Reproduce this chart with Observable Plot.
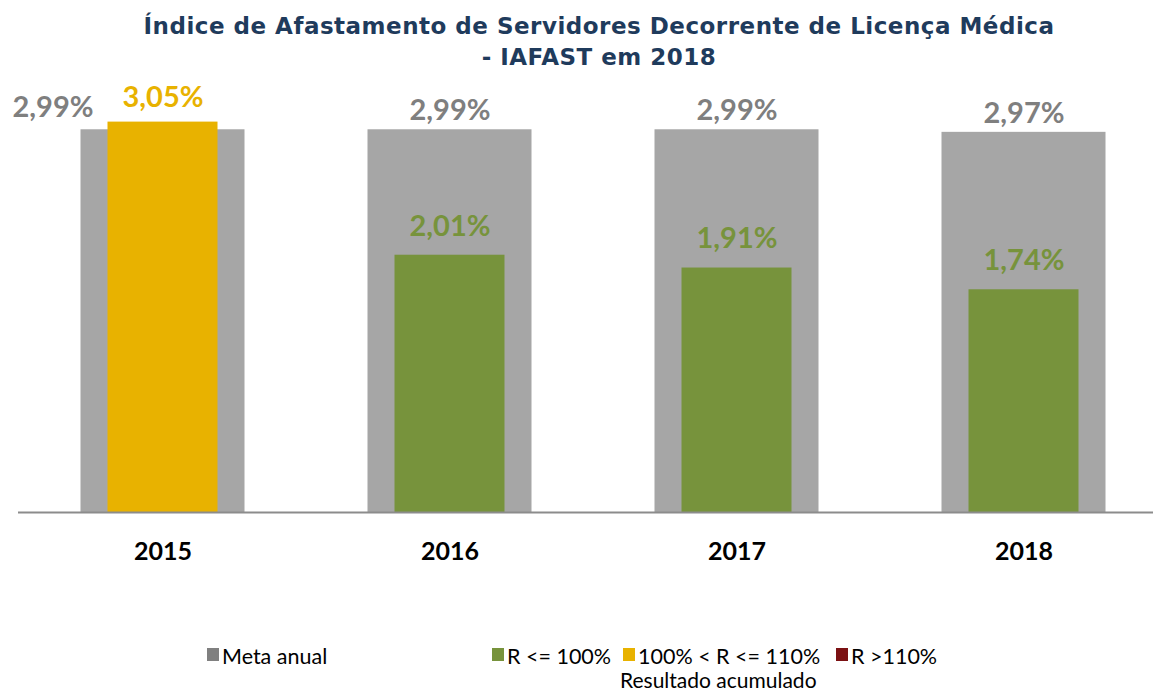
<!DOCTYPE html>
<html><head><meta charset="utf-8">
<script src="https://cdn.jsdelivr.net/npm/d3@7"></script>
<script src="https://cdn.jsdelivr.net/npm/@observablehq/plot@0.6"></script>
<style>
body{margin:0;background:#fff;width:1153px;height:693px;overflow:hidden;position:relative;font-family:Lato,"Open Sans",sans-serif;}
#title{position:absolute;left:0;top:11px;width:1198px;text-align:center;font-family:"DejaVu Sans",Verdana,sans-serif;font-weight:bold;font-size:23px;line-height:31px;color:#1F3B5C;letter-spacing:0.5px;}
#chart{position:absolute;left:0;top:64px;}
.leg{position:absolute;font-size:21.5px;color:#000;white-space:nowrap;line-height:22px;}
.sw{position:absolute;width:12px;height:13px;}
</style></head>
<body>
<div id="title">Índice de Afastamento de Servidores Decorrente de Licença Médica<br>- IAFAST em 2018</div>
<div id="chart"></div>
<div id="legend"></div>
<script>
const years = ["2015","2016","2017","2018"];
const meta = [2.99, 2.99, 2.99, 2.97];
const resultado = [3.05, 2.01, 1.91, 1.74];
const legendLabels = ["Meta anual","R <= 100%","100% < R <= 110%","R >110%"];
const legendColors = ["#808080","#77933C","#E8B200","#7B1113"];

const fmt = v => v.toFixed(2).replace(".", ",") + "%";
const cat = (r, m) => { const q = r / m; return q <= 1 ? 1 : (q <= 1.10 ? 2 : 3); };
const rows = years.map((y, i) => ({year: y, meta: meta[i], res: resultado[i], c: cat(resultado[i], meta[i])}));
// when the result exceeds the goal, the goal label moves aside
const metaAside = rows.filter(d => d.res > d.meta);
const metaAbove = rows.filter(d => d.res <= d.meta);

const plot = Plot.plot({
  width: 1153, height: 508,
  marginLeft: 18, marginRight: 0, marginTop: 0, marginBottom: 60,
  x: {domain: years, range: [18.5, 1166.5], padding: 0, label: null, tickSize: 0, tickPadding: 30},
  y: {domain: [0, 3.5], axis: null},
  style: {fontFamily: "Lato, 'Open Sans', sans-serif", overflow: "visible"},
  marks: [
    Plot.barY(rows, {x: "year", y: "meta", fill: "#A6A6A6", insetLeft: 61.5, insetRight: 61.5}),
    Plot.barY(rows, {x: "year", y: "res", fill: d => legendColors[d.c], insetLeft: 88.5, insetRight: 88.5}),
    Plot.ruleY([0], {stroke: "#8C8C8C", strokeWidth: 2}),
    Plot.text(metaAbove, {x: "year", y: "meta", text: d => fmt(d.meta), dy: -19,
      fill: "#7F7F7F", fontSize: 29, fontWeight: "bold"}),
    Plot.text(metaAside, {x: "year", y: "meta", text: d => fmt(d.meta), dy: -22, dx: -110,
      fill: "#7F7F7F", fontSize: 29, fontWeight: "bold"}),
    Plot.text(rows.filter(d => d.c === 2), {x: "year", y: "res", text: d => fmt(d.res), dy: -24,
      fill: legendColors[2], fontSize: 29, fontWeight: "bold"}),
    Plot.text(rows.filter(d => d.c !== 2), {x: "year", y: "res", text: d => fmt(d.res), dy: -29,
      fill: d => legendColors[d.c], fontSize: 29, fontWeight: "bold"})
  ]
});
plot.querySelectorAll('[aria-label="x-axis tick label"] text').forEach(t => {
  t.setAttribute("font-size", "25"); t.setAttribute("font-weight", "bold"); t.setAttribute("fill", "#000");
});
document.getElementById("chart").appendChild(plot);

const pos = [[207,222],[492,507],[623,638],[836,851]];
const leg = document.getElementById("legend");
legendLabels.forEach((l, i) => {
  const s = document.createElement("div"); s.className = "sw";
  s.style.left = pos[i][0] + "px"; s.style.top = "648px"; s.style.background = legendColors[i];
  leg.appendChild(s);
  const t = document.createElement("div"); t.className = "leg";
  t.style.left = pos[i][1] + "px"; t.style.top = "645px"; t.textContent = l;
  leg.appendChild(t);
});
const r = document.createElement("div"); r.className = "leg";
r.style.left = "620px"; r.style.top = "669px"; r.style.fontSize = "21px"; r.textContent = "Resultado acumulado";
leg.appendChild(r);
</script>
</body></html>
